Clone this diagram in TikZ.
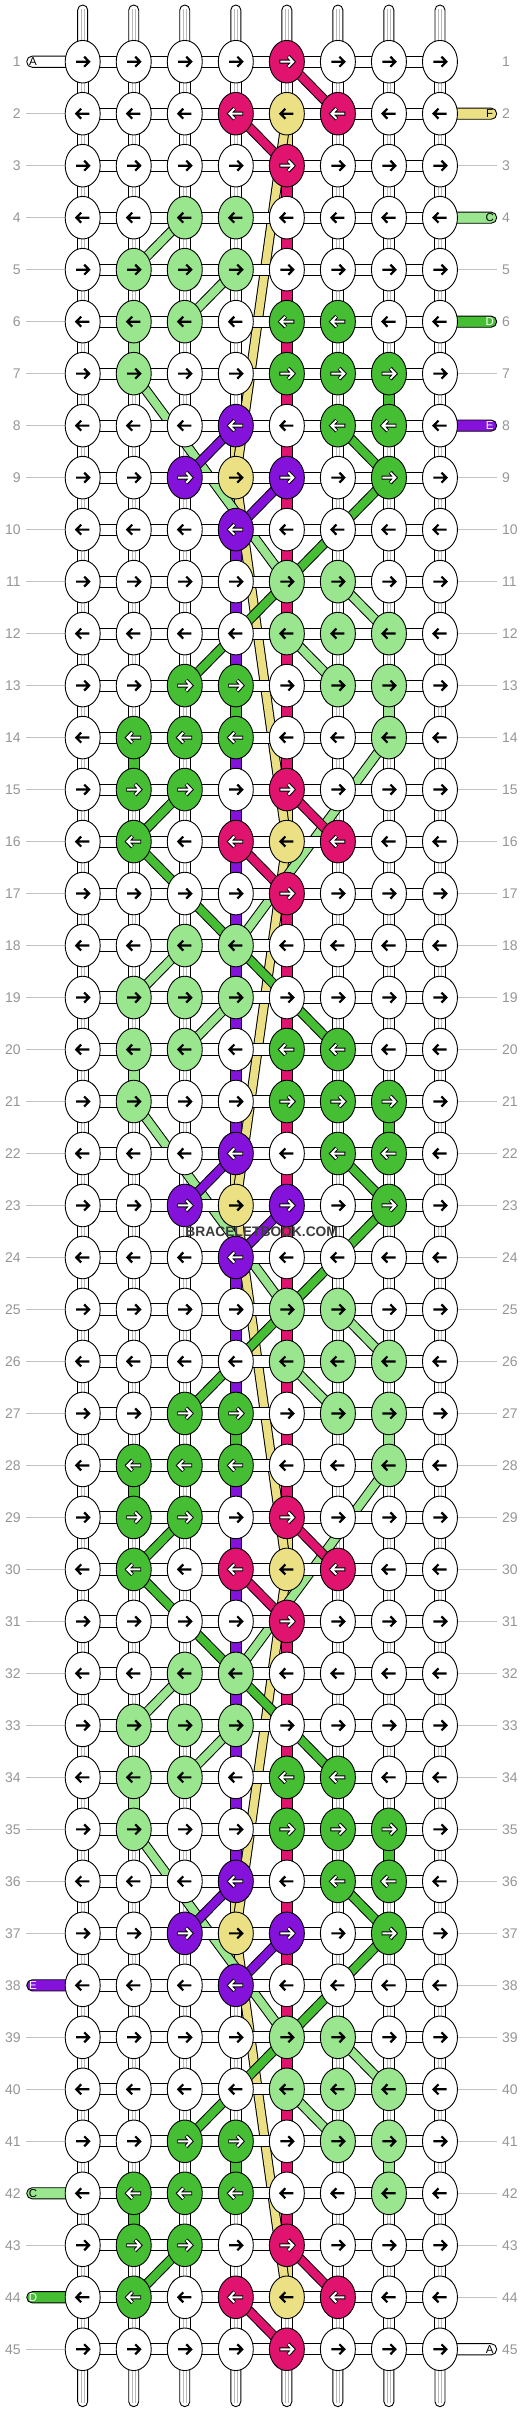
\documentclass[tikz,border=0pt]{standalone}
\usepackage{fontspec}
\setmainfont{Liberation Sans}
\usetikzlibrary{shapes.geometric,calc}
\definecolor{kpink}{RGB}{224,19,111}
\definecolor{kyel}{RGB}{236,224,132}
\definecolor{klg}{RGB}{154,230,142}
\definecolor{kg}{RGB}{69,190,51}
\definecolor{kpur}{RGB}{133,18,219}
\definecolor{numgray}{RGB}{150,150,150}
\definecolor{linegray}{RGB}{195,195,195}
\definecolor{tubegray}{RGB}{185,185,185}
\definecolor{wmgray}{RGB}{60,60,60}
\pgfdeclarelayer{bgl}
\pgfdeclarelayer{vconn}
\pgfdeclarelayer{bands}
\pgfdeclarelayer{hconn}
\pgfdeclarelayer{top}
\pgfsetlayers{bgl,vconn,bands,hconn,main,top}
\expandafter\def\csname atype-white\endcsname{B}
\expandafter\def\csname atype-kyel\endcsname{B}
\expandafter\def\csname atype-klg\endcsname{B}
\expandafter\def\csname atype-kpink\endcsname{W}
\expandafter\def\csname atype-kg\endcsname{W}
\expandafter\def\csname atype-kpur\endcsname{W}
\newcommand\setknot[3]{\expandafter\xdef\csname kc-#1-#2\endcsname{#3}}
\newcommand\setvc[3]{\expandafter\xdef\csname vc-#1-#2\endcsname{#3}}
\newcommand\bandline[3]{%
  \draw[line width=10,line cap=butt] (#2.center)--(#3.center);
  \draw[line width=8,line cap=butt,#1] (#2.center)--(#3.center);}
\newcommand\bandk[6]{%
  \pgfmathtruncatemacro\bra{#3+#6}\pgfmathtruncatemacro\brb{#5+#6}%
  \bandline{#1}{k-#2-\bra}{k-#4-\brb}}
\newcommand\arrB{\draw[line width=2.2,line join=miter] (-6.6,0)--(5.6,0) (1.5,-5)--(6.4,0)--(1.5,5);}
\newcommand\arrW{\draw[line width=4,line join=miter] (-7.4,0)--(5.6,0) (1.3,-5.4)--(6.4,0)--(1.3,5.4);
  \draw[white,line width=2,line join=miter] (-6.6,0)--(5.2,0) (1.5,-5)--(6.4,0)--(1.5,5);}
\tikzset{
  knot/.style={ellipse,draw=black,line width=0.9,minimum width=35,minimum height=42.6,inner sep=0},
  hc/.style={draw=black,fill=white,line width=0.9},
  vcw/.style={draw=black,fill=white,line width=0.9},
  tubeline/.style={tubegray,line width=0.7},
  sideline/.style={linegray,line width=0.9},
  rownum/.style={text=numgray,font=\fontsize{14}{14}\selectfont,inner sep=0},
  tablbl/.style={font=\fontsize{11.5}{11.5}\selectfont,inner sep=0},
  tabshape/.style={draw=black,line width=0.9,rounded corners=5.5},
}
\newcommand\lefttab[4]{%
  \pgfmathsetmacro\ty{9.71+51.99*#1}%
  \draw[tabshape,fill=#2] (72,\ty-5.6) -- (26.7,\ty-5.6) -- (26.7,\ty+5.6) -- (72,\ty+5.6);
  \node[tablbl,text=#4] (tabL-#1) at (33,\ty) {#3};}
\newcommand\righttab[4]{%
  \pgfmathsetmacro\ty{9.71+51.99*#1}%
  \draw[tabshape,fill=#2] (450,\ty-5.6) -- (496.7,\ty-5.6) -- (496.7,\ty+5.6) -- (450,\ty+5.6);
  \node[tablbl,text=#4] (tabR-#1) at (489.7,\ty) {#3};}
\begin{document}
\begin{tikzpicture}[x=1pt,y=-1pt]
\useasboundingbox (0,0) rectangle (532,2412);
\begin{pgfonlayer}{bgl}
\fill[white] (0,0) rectangle (532,2412);
\end{pgfonlayer}
% ---------- knot colour data ----------
\setknot{5}{1}{kpink}
\foreach \k in {0,14,28,42}{
  \foreach \tr/\ci/\tcol in {2/4/kpink,2/5/kyel,2/6/kpink,3/5/kpink,
    4/3/klg,4/4/klg,5/2/klg,5/3/klg,5/4/klg,6/2/klg,6/3/klg,6/5/kg,6/6/kg,
    7/2/klg,7/5/kg,7/6/kg,7/7/kg,8/4/kpur,8/6/kg,8/7/kg,
    9/3/kpur,9/4/kyel,9/5/kpur,9/7/kg,10/4/kpur,11/5/klg,11/6/klg,
    12/5/klg,12/6/klg,12/7/klg,13/3/kg,13/4/kg,13/6/klg,13/7/klg,
    14/2/kg,14/3/kg,14/4/kg,14/7/klg,15/2/kg,15/3/kg,15/5/kpink}{
    \pgfmathtruncatemacro\rr{\tr+\k}
    \ifnum\rr<46 \setknot{\ci}{\rr}{\tcol}\fi
  }
}
\setknot{2}{16}{kg}\setknot{2}{30}{kg}\setknot{2}{44}{kg}
% ---------- vertical connector colours ----------
\foreach \rv in {6,20,34}{\setvc{2}{\rv}{klg}}
\foreach \rv in {14,28,42}{\setvc{2}{\rv}{kg}}
\foreach \rv in {10,...,37}{\setvc{4}{\rv}{kpur}}
\foreach \rv in {13,27,41}{\setvc{4}{\rv}{kg}}
\foreach \rv in {8,9,22,23,36,37}{\setvc{4}{\rv}{kyel}}
\foreach \rv in {3,...,14}{\setvc{5}{\rv}{kpink}}
\foreach \rv in {17,...,28}{\setvc{5}{\rv}{kpink}}
\foreach \rv in {31,...,42}{\setvc{5}{\rv}{kpink}}
\foreach \rv in {2,15,16,29,30,43}{\setvc{5}{\rv}{kyel}}
\foreach \rv in {7,21,35}{\setvc{7}{\rv}{kg}}
\foreach \rv in {13,27,41}{\setvc{7}{\rv}{klg}}
% ---------- knots ----------
\foreach \ri in {1,...,45}{
  \foreach \ci in {1,...,8}{
    \ifcsname kc-\ci-\ri\endcsname \edef\kcol{\csname kc-\ci-\ri\endcsname}\else\def\kcol{white}\fi
    \node[knot,fill=\kcol] (k-\ci-\ri) at ({31.65+51.04*\ci},{9.71+51.99*\ri}) {};
    \edef\atype{\csname atype-\kcol\endcsname}
    \ifodd\ri\relax \def\dsgn{1}\else\def\dsgn{-1}\fi
    \begin{scope}[shift={(k-\ci-\ri.center)},xscale=\dsgn]
      \if W\atype \arrW \else \arrB \fi
    \end{scope}
  }
}
% ---------- vertical connectors and end tubes ----------
\begin{pgfonlayer}{vconn}
\foreach \ci in {1,...,8}{
  \foreach \ri in {1,...,44}{
    \pgfmathtruncatemacro\rn{\ri+1}
    \ifcsname vc-\ci-\ri\endcsname
      \edef\vcol{\csname vc-\ci-\ri\endcsname}
      \draw[vcw,fill=\vcol] ($(k-\ci-\ri.center)+(-5.3,19)$) rectangle ($(k-\ci-\rn.center)+(5.3,-19)$);
    \else
      \draw[vcw] ($(k-\ci-\ri.center)+(-5.3,19)$) rectangle ($(k-\ci-\rn.center)+(5.3,-19)$);
      \draw[tubeline] ($(k-\ci-\ri.center)+(-1.6,19)$) -- ($(k-\ci-\rn.center)+(-1.6,-19)$)
                      ($(k-\ci-\ri.center)+(1.6,19)$) -- ($(k-\ci-\rn.center)+(1.6,-19)$);
    \fi
  }
  \draw[vcw,rounded corners=5] ($(k-\ci-1.center)+(-5,-15)$) -- ($(k-\ci-1.center)+(-5,-56.7)$) -- ($(k-\ci-1.center)+(5,-56.7)$) -- ($(k-\ci-1.center)+(5,-15)$);
  \draw[tubeline] ($(k-\ci-1.center)+(-1.6,-19)$) -- ($(k-\ci-1.center)+(-1.6,-53)$)
                  ($(k-\ci-1.center)+(1.6,-19)$) -- ($(k-\ci-1.center)+(1.6,-53)$);
  \draw[vcw,rounded corners=5] ($(k-\ci-45.center)+(-5,15)$) -- ($(k-\ci-45.center)+(-5,57.4)$) -- ($(k-\ci-45.center)+(5,57.4)$) -- ($(k-\ci-45.center)+(5,15)$);
  \draw[tubeline] ($(k-\ci-45.center)+(-1.6,19)$) -- ($(k-\ci-45.center)+(-1.6,53.5)$)
                  ($(k-\ci-45.center)+(1.6,19)$) -- ($(k-\ci-45.center)+(1.6,53.5)$);
}
\end{pgfonlayer}
% ---------- coloured strands ----------
\begin{pgfonlayer}{bands}
\bandline{kyel}{k-5-2}{k-4-9}
\bandline{kyel}{k-4-9}{k-5-16}
\bandline{kyel}{k-5-16}{k-4-23}
\bandline{kyel}{k-4-23}{k-5-30}
\bandline{kyel}{k-5-30}{k-4-37}
\bandline{kyel}{k-4-37}{k-5-44}
\foreach \k in {0,14,28}{
  \bandk{klg}{3}{4}{2}{5}{\k}
  \bandk{klg}{4}{5}{3}{6}{\k}
  \bandk{klg}{2}{7}{5}{11}{\k}
  \bandk{klg}{6}{11}{7}{12}{\k}
  \bandk{klg}{5}{12}{6}{13}{\k}
}
\foreach \k in {0,14}{\bandk{klg}{7}{14}{4}{18}{\k}}
\foreach \k in {0,14,28}{
  \bandk{kg}{6}{8}{7}{9}{\k}
  \bandk{kg}{7}{9}{3}{13}{\k}
  \bandk{kg}{3}{15}{2}{16}{\k}
}
\foreach \k in {0,14}{\bandk{kg}{2}{16}{6}{20}{\k}}
\foreach \k in {0,14,28,42}{
  \bandk{kpink}{5}{1}{6}{2}{\k}
  \bandk{kpink}{4}{2}{5}{3}{\k}
}
\foreach \k in {0,14,28}{
  \bandk{kpur}{4}{8}{3}{9}{\k}
  \bandk{kpur}{5}{9}{4}{10}{\k}
}
\end{pgfonlayer}
% ---------- horizontal connectors, side lines, tabs, numbers ----------
\begin{pgfonlayer}{hconn}
\foreach \ri in {1,...,45}{
  \foreach \ci in {1,...,7}{
    \pgfmathtruncatemacro\cn{\ci+1}
    \draw[hc] ($(k-\ci-\ri.center)+(15,-5.6)$) rectangle ($(k-\cn-\ri.center)+(-15,5.6)$);
  }
  \pgfmathsetmacro\ty{9.71+51.99*\ri}
  \node[rownum,anchor=east] (numL-\ri) at (20.8,\ty) {\ri};
  \node[rownum,anchor=west] (numR-\ri) at (501.8,\ty) {\ri};
}
\foreach \ri in {3,5,7,9,10,11,12,13,14,15,16,17,18,19,20,21,22,23,24,25,26,27,28,29,30,31,32,33,34,35,36,37,38,39,40,41,42,43,44}{
  \pgfmathsetmacro\ty{9.71+51.99*\ri}
  \draw[sideline] (456.5,\ty) -- (497,\ty);
}
\foreach \ri in {2,3,4,5,6,7,8,9,10,11,12,13,14,15,16,17,18,19,20,21,22,23,24,25,26,27,28,29,30,31,32,33,34,35,36,37,39,40,41,43,45}{
  \pgfmathsetmacro\ty{9.71+51.99*\ri}
  \draw[sideline] (26,\ty) -- (66,\ty);
}
\lefttab{1}{white}{A}{black}
\lefttab{38}{kpur}{E}{white}
\lefttab{42}{klg}{C}{black}
\lefttab{44}{kg}{D}{white}
\righttab{2}{kyel}{F}{black}
\righttab{4}{klg}{C}{black}
\righttab{6}{kg}{D}{white}
\righttab{8}{kpur}{E}{white}
\righttab{45}{white}{A}{black}
\end{pgfonlayer}
\begin{pgfonlayer}{top}
\node[text=wmgray,font=\bfseries\fontsize{13.8}{14}\selectfont,inner sep=0] (wm) at (261.7,1231.7) {BRACELETBOOK.COM};
\end{pgfonlayer}
\end{tikzpicture}
\end{document}
